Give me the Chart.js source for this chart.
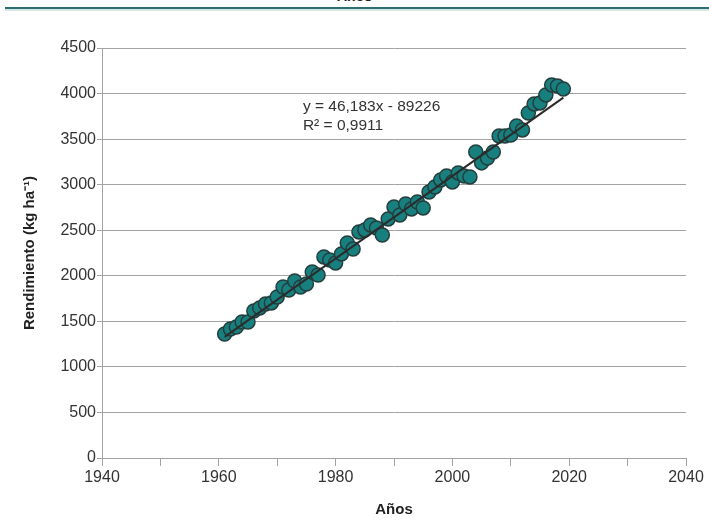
<!DOCTYPE html>
<html>
<head>
<meta charset="utf-8">
<script src="https://cdn.jsdelivr.net/npm/chart.js@4.4.1/dist/chart.umd.min.js"></script>
<style>
  html, body { margin: 0; padding: 0; background: #ffffff; }
  #wrap { position: relative; width: 709px; height: 523px; overflow: hidden; }
  #topTitle { position: absolute; left: 0; width: 709px; top: -12px; text-align: center;
    font: bold 14px "Liberation Sans", Arial, sans-serif; color: #222; }
  #topRule { position: absolute; left: 5px; right: 0; top: 7px; height: 2px; background: #2b6f70; }
  #topRule2 { position: absolute; left: 5px; right: 0; top: 9px; height: 2px; background: #d8e6e6; }
  canvas { position: absolute; left: 0; top: 0; }
</style>
</head>
<body>
<div id="wrap">
  <div id="topTitle">Años</div>
  <div id="topRule"></div>
  <div id="topRule2"></div>
  <canvas id="c" width="709" height="523"></canvas>
</div>
<script>
const years = [1961,1962,1963,1964,1965,1966,1967,1968,1969,1970,
  1971,1972,1973,1974,1975,1976,1977,1978,1979,1980,
  1981,1982,1983,1984,1985,1986,1987,1988,1989,1990,
  1991,1992,1993,1994,1995,1996,1997,1998,1999,2000,
  2001,2002,2003,2004,2005,2006,2007,2008,2009,2010,
  2011,2012,2013,2014,2015,2016,2017,2018,2019];
const yields = [1361,1416,1438,1493,1493,1614,1647,1691,1702,1767,
  1877,1844,1943,1877,1910,2042,2009,2207,2174,2141,
  2240,2360,2294,2481,2503,2558,2525,2448,2624,2756,
  2668,2788,2734,2810,2745,2920,2975,3052,3096,3030,
  3129,3096,3085,3359,3239,3293,3359,3535,3535,3545,
  3645,3601,3787,3886,3897,3985,4095,4084,4051];
const trendYears = [1961, 2019];
const trendValues = [1330, 3955];
const equationLines = ["y = 46,183x - 89226", "R\u00B2 = 0,9911"];
const equationAnchor = [1974.4, 3860];
const xTicks = [1940, 1960, 1980, 2000, 2020, 2040];
const yTicks = [0, 500, 1000, 1500, 2000, 2500, 3000, 3500, 4000, 4500];

const FONT = '"Liberation Sans", Arial, sans-serif';
const GRID = '#a3a3a3';

const eqPlugin = {
  id: 'eq',
  afterDatasetsDraw(chart) {
    const ctx = chart.ctx;
    const xs = chart.scales.x, ys = chart.scales.y;
    const px = xs.getPixelForValue(equationAnchor[0]);
    const py = ys.getPixelForValue(equationAnchor[1]);
    ctx.save();
    ctx.fillStyle = '#333333';
    ctx.font = '15.5px ' + FONT;
    ctx.textBaseline = 'middle';
    ctx.textAlign = 'left';
    equationLines.forEach((t, i) => ctx.fillText(t, px, py + i * 19));
    ctx.restore();
  }
};

new Chart(document.getElementById('c'), {
  type: 'scatter',
  data: {
    datasets: [
      {
        type: 'line',
        data: trendYears.map((x, i) => ({x, y: trendValues[i]})),
        borderColor: '#2b2b2b',
        borderWidth: 2,
        pointRadius: 0,
        fill: false,
        order: 0
      },
      {
        data: years.map((x, i) => ({x, y: yields[i]})),
        backgroundColor: '#17807e',
        borderColor: '#243d3d',
        borderWidth: 1.5,
        pointRadius: 7,
        order: 1
      }
    ]
  },
  options: {
    responsive: false,
    animation: false,
    plugins: { legend: { display: false }, tooltip: { enabled: false } },
    layout: { padding: { left: 0, right: 23, top: 48, bottom: 0 } },
    scales: {
      x: {
        type: 'linear',
        min: 1940, max: 2040,
        afterFit(s) { s.height = 65; },
        afterBuildTicks(s) {
          const t = [];
          for (let v = 1940; v <= 2040; v += 10) t.push({ value: v });
          s.ticks = t;
        },
        ticks: {
          autoSkip: false, maxRotation: 0,
          color: '#333333',
          font: { family: FONT, size: 16 },
          padding: 2,
          callback: (v) => xTicks.includes(v) ? String(v) : ''
        },
        grid: { drawOnChartArea: false, drawTicks: true, tickLength: 8, color: GRID, lineWidth: 1 },
        border: { color: GRID, width: 1 },
        title: { display: true, text: 'Años', color: '#222222',
          font: { family: FONT, size: 15, weight: 'bold' }, padding: { top: 0, bottom: 4 } }
      },
      y: {
        min: 0, max: 4500,
        afterFit(s) { s.width = 102; },
        afterBuildTicks(s) { s.ticks = yTicks.map(v => ({ value: v })); },
        ticks: {
          color: '#333333',
          font: { family: FONT, size: 16 },
          padding: 1,
          callback: (v) => String(v)
        },
        grid: { color: GRID, lineWidth: 1, tickLength: 5, drawTicks: true },
        border: { color: GRID, width: 1 },
        title: { display: true, text: 'Rendimiento (kg ha\u207B\u00B9)', color: '#222222',
          font: { family: FONT, size: 15, weight: 'bold' }, padding: { top: 21, bottom: 0 } }
      }
    }
  },
  plugins: [eqPlugin]
});
</script>
</body>
</html>
